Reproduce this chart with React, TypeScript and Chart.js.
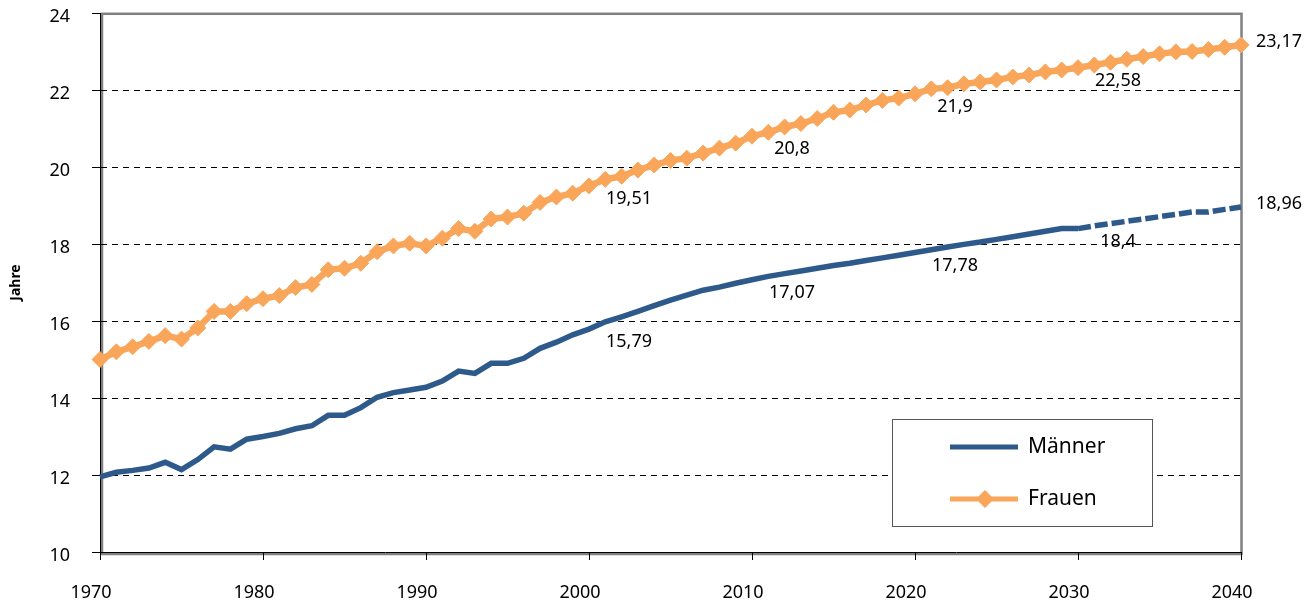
import React, { useEffect, useRef } from 'react';
import { Chart, registerables } from 'chart.js';

Chart.register(...registerables);

const years = [
  1970, 1971, 1972, 1973, 1974, 1975, 1976, 1977, 1978, 1979,
  1980, 1981, 1982, 1983, 1984, 1985, 1986, 1987, 1988, 1989,
  1990, 1991, 1992, 1993, 1994, 1995, 1996, 1997, 1998, 1999,
  2000, 2001, 2002, 2003, 2004, 2005, 2006, 2007, 2008, 2009,
  2010, 2011, 2012, 2013, 2014, 2015, 2016, 2017, 2018, 2019,
  2020, 2021, 2022, 2023, 2024, 2025, 2026, 2027, 2028, 2029,
  2030, 2031, 2032, 2033, 2034, 2035, 2036, 2037, 2038, 2039,
  2040,
];

const maenner = [
  11.95, 12.07, 12.12, 12.18, 12.33, 12.14, 12.40, 12.73, 12.67, 12.93,
  13.00, 13.08, 13.20, 13.28, 13.55, 13.55, 13.75, 14.02, 14.14, 14.21,
  14.28, 14.44, 14.70, 14.64, 14.90, 14.90, 15.03, 15.29, 15.45, 15.64,
  15.79, 15.98, 16.11, 16.25, 16.40, 16.54, 16.67, 16.80, 16.88, 16.98,
  17.07, 17.16, 17.23, 17.30, 17.37, 17.44, 17.50, 17.57, 17.64, 17.71,
  17.78, 17.85, 17.92, 17.99, 18.05, 18.12, 18.19, 18.26, 18.33, 18.40,
  18.40, 18.47, 18.53, 18.59, 18.65, 18.71, 18.77, 18.83, 18.83, 18.90,
  18.96,
];

const frauen = [
  15.00, 15.20, 15.33, 15.47, 15.62, 15.53, 15.82, 16.25, 16.25, 16.45,
  16.58, 16.66, 16.87, 16.95, 17.33, 17.37, 17.50, 17.80, 17.95, 18.02,
  17.95, 18.15, 18.40, 18.33, 18.65, 18.70, 18.80, 19.08, 19.22, 19.32,
  19.51, 19.68, 19.76, 19.92, 20.05, 20.17, 20.23, 20.36, 20.49, 20.62,
  20.80, 20.90, 21.04, 21.13, 21.26, 21.42, 21.48, 21.61, 21.73, 21.79,
  21.90, 22.03, 22.06, 22.16, 22.21, 22.26, 22.34, 22.39, 22.47, 22.52,
  22.58, 22.65, 22.72, 22.80, 22.87, 22.94, 22.99, 23.00, 23.05, 23.11,
  23.17,
];

const labelYears = [2000, 2010, 2020, 2030, 2040];
const forecastStart = 2030;
const seriesNames = ['Männer', 'Frauen'];
const yTitle = 'Jahre';

const BLUE = '#2D5A8B';
const ORANGE = '#F9A65A';
const FONT = '"Noto Sans", "DejaVu Sans", sans-serif';

const fmt = (v: number) => String(v).replace('.', ',');

const framePlugin = {
  id: 'frame',
  beforeDraw(chart: any) {
    const { ctx, chartArea: a } = chart;
    ctx.save();
    ctx.strokeStyle = '#808080';
    ctx.lineWidth = 2.5;
    ctx.strokeRect(a.left + 2, a.top + 0.8, a.right + 0.5 - (a.left + 2), a.bottom + 2 - (a.top + 0.8));
    ctx.restore();
  },
};

const valueLabelPlugin = {
  id: 'valueLabels',
  afterDatasetsDraw(chart: any) {
    const { ctx } = chart;
    const xs = chart.scales.x;
    const ys = chart.scales.y;
    ctx.save();
    ctx.font = `18px ${FONT}`;
    ctx.fillStyle = '#000';
    ctx.textBaseline = 'middle';
    [maenner, frauen].forEach((series) => {
      labelYears.forEach((yr) => {
        const i = years.indexOf(yr);
        const v = series[i];
        const px = xs.getPixelForValue(yr);
        const py = ys.getPixelForValue(v);
        if (i === years.length - 1) {
          ctx.textAlign = 'left';
          ctx.fillText(fmt(v), px + 15, py - 3);
        } else {
          ctx.textAlign = 'center';
          ctx.fillText(fmt(v), px + 40, py + 13);
        }
      });
    });
    ctx.restore();
  },
};

const legendPlugin = {
  id: 'boxLegend',
  afterDraw(chart: any) {
    const { ctx } = chart;
    const bx = 892.5, by = 419.5, bw = 260, bh = 107;
    ctx.save();
    ctx.fillStyle = '#fff';
    ctx.fillRect(bx, by, bw, bh);
    ctx.strokeStyle = '#555';
    ctx.lineWidth = 1;
    ctx.strokeRect(bx, by, bw, bh);
    const rows = [
      { name: seriesNames[0], color: BLUE, y: 447, marker: false },
      { name: seriesNames[1], color: ORANGE, y: 499, marker: true },
    ];
    rows.forEach((r) => {
      ctx.strokeStyle = r.color;
      ctx.lineWidth = 5;
      ctx.beginPath();
      ctx.moveTo(950, r.y);
      ctx.lineTo(1018, r.y);
      ctx.stroke();
      if (r.marker) {
        const cx = 985, s = 9;
        ctx.fillStyle = r.color;
        ctx.beginPath();
        ctx.moveTo(cx, r.y - s);
        ctx.lineTo(cx + s, r.y);
        ctx.lineTo(cx, r.y + s);
        ctx.lineTo(cx - s, r.y);
        ctx.closePath();
        ctx.fill();
      }
      ctx.fillStyle = '#000';
      ctx.font = `21px ${FONT}`;
      ctx.textAlign = 'left';
      ctx.textBaseline = 'middle';
      ctx.fillText(r.name, 1028, r.y);
    });
    ctx.restore();
  },
};

const zeroPad = (s: any) => {
  s.paddingTop = 0;
  s.paddingBottom = 0;
  s.paddingLeft = 0;
  s.paddingRight = 0;
};

export default function App() {
  const ref = useRef<HTMLCanvasElement | null>(null);

  useEffect(() => {
    document.body.style.margin = '0';
    const canvas = ref.current;
    if (!canvas) return;
    const chart = new Chart(canvas, {
      type: 'line',
      data: {
        datasets: [
          {
            label: seriesNames[0],
            data: years.map((x, i) => ({ x, y: maenner[i] })),
            borderColor: BLUE,
            backgroundColor: BLUE,
            borderWidth: 5.5,
            pointRadius: 0,
            pointHoverRadius: 0,
            tension: 0,
            clip: false as any,
            borderCapStyle: 'butt',
            segment: {
              borderDash: (c: any) => (c.p0.parsed.x >= forecastStart ? [13, 4] : undefined),
            },
          },
          {
            label: seriesNames[1],
            data: years.map((x, i) => ({ x, y: frauen[i] })),
            borderColor: ORANGE,
            backgroundColor: ORANGE,
            borderWidth: 6.5,
            pointStyle: 'rectRot',
            pointRadius: 8,
            pointBorderWidth: 1,
            pointBorderColor: ORANGE,
            pointBackgroundColor: ORANGE,
            pointHoverRadius: 8,
            tension: 0,
            clip: false as any,
          },
        ],
      },
      options: {
        responsive: false,
        animation: false,
        events: [],
        layout: { padding: { top: 13, right: 74, left: 0, bottom: 0 } },
        plugins: {
          legend: { display: false },
          tooltip: { enabled: false },
        },
        scales: {
          x: {
            type: 'linear',
            min: 1970,
            max: 2040,
            afterFit: (s: any) => { s.height = 53; zeroPad(s); },
            ticks: {
              stepSize: 10,
              padding: 22,
              labelOffset: -9,
              maxRotation: 0,
              color: '#000',
              font: { family: FONT, size: 18 },
              callback: (v: any) => String(v),
            },
            grid: {
              drawOnChartArea: false,
              drawTicks: true,
              tickLength: 8,
              tickColor: '#000',
              color: '#000',
            },
            border: { display: true, color: '#000', width: 1 },
          },
          y: {
            min: 10,
            max: 24,
            afterFit: (s: any) => { s.width = 100; zeroPad(s); },
            ticks: {
              stepSize: 2,
              padding: 22,
              labelOffset: 4,
              color: '#000',
              font: { family: FONT, size: 18 },
            },
            grid: {
              drawTicks: true,
              tickLength: 8,
              tickColor: '#000',
              tickBorderDash: [],
              color: (c: any) => (c.tick && (c.tick.value === 24 || c.tick.value === 10) ? 'rgba(0,0,0,0)' : '#000'),
              lineWidth: 1,
            },
            border: { display: true, color: '#000', width: 1, dash: [6, 5] },
            title: {
              display: true,
              text: yTitle,
              color: '#000',
              font: { family: FONT, size: 14, weight: 'bold' },
              padding: { top: 8, bottom: 0 },
            },
          },
        },
      },
      plugins: [framePlugin, valueLabelPlugin, legendPlugin],
    } as any);
    return () => chart.destroy();
  }, []);

  return (
    <div style={{ width: 1315, height: 605, position: 'relative' }}>
      <canvas ref={ref} width={1315} height={605} style={{ display: 'block' }} />
    </div>
  );
}
